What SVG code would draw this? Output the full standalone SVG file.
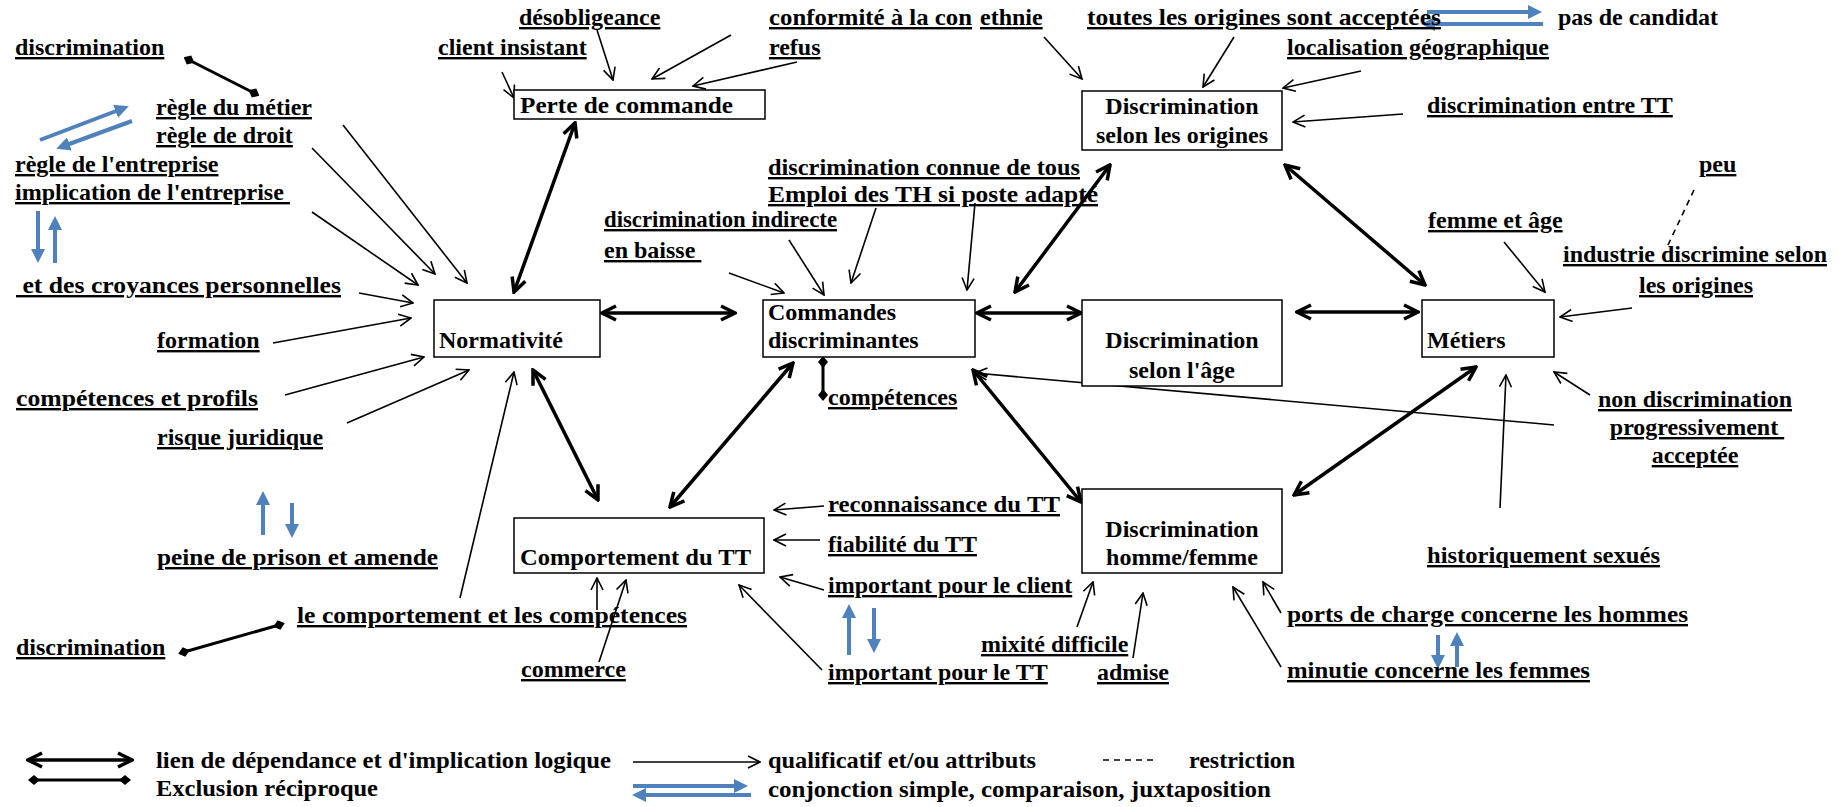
<svg xmlns="http://www.w3.org/2000/svg" width="1843" height="807" viewBox="0 0 1843 807">
<defs>
<style>
text{font-family:"Liberation Serif","Times New Roman",serif;font-size:24px;font-weight:bold;fill:#000}
.u{text-decoration:underline}
.c{text-anchor:middle}
rect.box{fill:#fff;stroke:#000;stroke-width:1.5}
.thin{stroke:#000;stroke-width:1.6;fill:none;marker-end:url(#ah)}
.dep{stroke:#000;stroke-width:3.5;fill:none;marker-start:url(#dh);marker-end:url(#dh)}
.exc{stroke:#000;stroke-width:3;fill:none;marker-start:url(#dm);marker-end:url(#dm)}
.blue{stroke:#4f81bd;stroke-width:4;fill:none;marker-end:url(#bh)}
.dash{stroke:#000;stroke-width:1.6;stroke-dasharray:6 5;fill:none}
</style>
<marker id="ah" viewBox="0 0 14 14" refX="13" refY="7" markerWidth="14" markerHeight="14" markerUnits="userSpaceOnUse" orient="auto">
<path d="M1,1 L13,7 L1,13" fill="none" stroke="#000" stroke-width="1.6"/>
</marker>
<marker id="dh" viewBox="0 0 18 18" refX="16" refY="9" markerWidth="18" markerHeight="18" markerUnits="userSpaceOnUse" orient="auto-start-reverse">
<path d="M2,2 L16,9 L2,16" fill="none" stroke="#000" stroke-width="3.5"/>
</marker>
<marker id="dm" viewBox="0 0 12 12" refX="6" refY="6" markerWidth="12" markerHeight="12" markerUnits="userSpaceOnUse" orient="auto">
<path d="M0,6 L6,1 L12,6 L6,11 Z" fill="#000"/>
</marker>
<marker id="bh" viewBox="0 0 14 14" refX="9" refY="7" markerWidth="14" markerHeight="14" markerUnits="userSpaceOnUse" orient="auto">
<path d="M0,0 L14,7 L0,14 Z" fill="#4f81bd"/>
</marker>
</defs>
<rect width="1843" height="807" fill="#fff"/>

<g id="connectors">
<!-- dependency links -->
<line class="dep" x1="514" y1="292" x2="575" y2="123"/>
<line class="dep" x1="602" y1="313" x2="735" y2="313"/>
<line class="dep" x1="977" y1="313" x2="1081" y2="313"/>
<line class="dep" x1="1297" y1="312" x2="1418" y2="312"/>
<line class="dep" x1="533" y1="370" x2="598" y2="500"/>
<line class="dep" x1="793" y1="363" x2="670" y2="507"/>
<line class="dep" x1="1015" y1="292" x2="1110" y2="165"/>
<line class="dep" x1="973" y1="370" x2="1081" y2="502"/>
<line class="dep" x1="1285" y1="165" x2="1425" y2="285"/>
<line class="dep" x1="1476" y1="367" x2="1294" y2="495"/>
<!-- thin attribute arrows -->
<line class="thin" x1="597" y1="30" x2="613" y2="80"/>
<line class="thin" x1="502" y1="72" x2="514" y2="98"/>
<line class="thin" x1="731" y1="35" x2="652" y2="79"/>
<line class="thin" x1="797" y1="62" x2="693" y2="86"/>
<line class="thin" x1="1044" y1="37" x2="1082" y2="79"/>
<line class="thin" x1="1234" y1="37" x2="1203" y2="87"/>
<line class="thin" x1="1361" y1="71" x2="1283" y2="88"/>
<line class="thin" x1="1403" y1="114" x2="1293" y2="122"/>
<line class="thin" x1="343" y1="125" x2="467" y2="283"/>
<line class="thin" x1="312" y1="148" x2="435" y2="274"/>
<line class="thin" x1="312" y1="212" x2="418" y2="285"/>
<line class="thin" x1="359" y1="293" x2="413" y2="303"/>
<line class="thin" x1="273" y1="343" x2="411" y2="318"/>
<line class="thin" x1="285" y1="395" x2="424" y2="357"/>
<line class="thin" x1="347" y1="423" x2="469" y2="370"/>
<line class="thin" x1="460" y1="598" x2="514" y2="372"/>
<line class="thin" x1="729" y1="273" x2="784" y2="293"/>
<line class="thin" x1="789" y1="240" x2="824" y2="295"/>
<line class="thin" x1="876" y1="208" x2="851" y2="283"/>
<line class="thin" x1="975" y1="203" x2="967" y2="290"/>
<line class="thin" x1="1554" y1="425" x2="975" y2="373"/>
<line class="thin" x1="824" y1="506" x2="774" y2="510"/>
<line class="thin" x1="820" y1="540" x2="774" y2="540"/>
<line class="thin" x1="824" y1="590" x2="780" y2="577"/>
<line class="thin" x1="822" y1="670" x2="739" y2="585"/>
<line class="thin" x1="597" y1="610" x2="597" y2="578"/>
<line class="thin" x1="599" y1="662" x2="626" y2="580"/>
<line class="thin" x1="1077" y1="627" x2="1093" y2="582"/>
<line class="thin" x1="1133" y1="658" x2="1143" y2="593"/>
<line class="thin" x1="1281" y1="667" x2="1233" y2="587"/>
<line class="thin" x1="1281" y1="613" x2="1263" y2="582"/>
<line class="thin" x1="1504" y1="242" x2="1545" y2="292"/>
<line class="thin" x1="1632" y1="308" x2="1560" y2="317"/>
<line class="thin" x1="1590" y1="395" x2="1554" y2="372"/>
<line class="thin" x1="1500" y1="508" x2="1506" y2="375"/>
<!-- restriction -->
<line class="dash" x1="1694" y1="190" x2="1668" y2="245"/>
<!-- exclusion -->
<line class="exc" x1="189" y1="60" x2="254" y2="93"/>
<line class="exc" x1="823" y1="362" x2="823" y2="395"/>
<line class="exc" x1="184" y1="652" x2="279" y2="625"/>
<!-- conjunction -->
<line class="blue" x1="40" y1="140" x2="124" y2="108"/>
<line class="blue" x1="132" y1="121" x2="61" y2="147"/>
<line class="blue" x1="38" y1="211" x2="38" y2="258"/>
<line class="blue" x1="55" y1="263" x2="55" y2="221"/>
<line class="blue" x1="263" y1="535" x2="263" y2="496"/>
<line class="blue" x1="292" y1="503" x2="292" y2="533"/>
<line class="blue" x1="849" y1="655" x2="849" y2="609"/>
<line class="blue" x1="874" y1="608" x2="874" y2="648"/>
<line class="blue" x1="1438" y1="635" x2="1438" y2="664"/>
<line class="blue" x1="1457" y1="667" x2="1457" y2="637"/>
<line class="blue" x1="1427" y1="12" x2="1537" y2="12"/>
<line class="blue" x1="1543" y1="24" x2="1426" y2="24"/>
</g>

<g id="n-perte"><rect class="box" x="514" y="90" width="251" height="29"/><text x="520" y="113" textLength="213" lengthAdjust="spacingAndGlyphs">Perte de commande</text></g>
<g id="n-origines"><rect class="box" x="1082" y="91" width="200" height="59"/><text class="c" x="1182" y="114">Discrimination</text><text class="c" x="1182" y="143">selon les origines</text></g>
<g id="n-normativite"><rect class="box" x="434" y="300" width="166" height="57"/><text x="439" y="348">Normativité</text></g>
<g id="n-commandes"><rect class="box" x="763" y="300" width="212" height="57"/><text x="768" y="320">Commandes</text><text x="768" y="348">discriminantes</text></g>
<g id="n-age"><rect class="box" x="1082" y="300" width="200" height="86"/><text class="c" x="1182" y="348">Discrimination</text><text class="c" x="1182" y="378">selon l'âge</text></g>
<g id="n-metiers"><rect class="box" x="1422" y="300" width="132" height="57"/><text x="1427" y="348">Métiers</text></g>
<g id="n-comportement"><rect class="box" x="514" y="518" width="250" height="55"/><text x="520" y="565" textLength="231" lengthAdjust="spacingAndGlyphs">Comportement du TT</text></g>
<g id="n-hf"><rect class="box" x="1082" y="489" width="200" height="84"/><text class="c" x="1182" y="537">Discrimination</text><text class="c" x="1182" y="565">homme/femme</text></g>

<g id="labels">
<text class="u" x="519" y="25">désobligeance</text>
<text class="u" x="769" y="25" textLength="203" lengthAdjust="spacingAndGlyphs">conformité à la con</text>
<text class="u" x="980" y="25">ethnie</text>
<text class="u" x="1087" y="25" textLength="354" lengthAdjust="spacingAndGlyphs">toutes les origines sont acceptées</text>
<text x="1558" y="25">pas de candidat</text>
<text class="u" x="15" y="55">discrimination</text>
<text class="u" x="438" y="55">client insistant</text>
<text class="u" x="769" y="55">refus</text>
<text class="u" x="1287" y="55">localisation géographique</text>
<text class="u" x="156" y="115">règle du métier</text>
<text class="u" x="1427" y="113">discrimination entre TT</text>
<text class="u" x="156" y="143">règle de droit</text>
<text class="u" x="15" y="172">règle de l'entreprise</text>
<text class="u" x="768" y="175" textLength="312" lengthAdjust="spacingAndGlyphs">discrimination connue de tous</text>
<text class="u" x="1699" y="172">peu</text>
<text class="u" x="15" y="200" xml:space="preserve">implication de l'entreprise </text>
<text class="u" x="768" y="202" textLength="330" lengthAdjust="spacingAndGlyphs">Emploi des TH si poste adapté</text>
<text class="u" x="604" y="227" textLength="233" lengthAdjust="spacingAndGlyphs">discrimination indirecte</text>
<text class="u" x="1428" y="228">femme et âge</text>
<text class="u" x="604" y="258" xml:space="preserve">en baisse </text>
<text class="u" x="1563" y="262">industrie discrimine selon</text>
<text class="u" x="16" y="293" xml:space="preserve" textLength="325" lengthAdjust="spacingAndGlyphs"> et des croyances personnelles</text>
<text class="u c" x="1696" y="293">les origines</text>
<text class="u" x="157" y="348">formation</text>
<text class="u" x="16" y="406" textLength="242" lengthAdjust="spacingAndGlyphs">compétences et profils</text>
<text class="u" x="828" y="405">compétences</text>
<text class="u c" x="1695" y="407">non discrimination</text>
<text class="u" x="157" y="445">risque juridique</text>
<text class="u c" x="1697" y="435" xml:space="preserve">progressivement </text>
<text class="u c" x="1695" y="463">acceptée</text>
<text class="u" x="828" y="512" textLength="232" lengthAdjust="spacingAndGlyphs">reconnaissance du TT</text>
<text class="u" x="828" y="552">fiabilité du TT</text>
<text class="u" x="1427" y="563" textLength="233" lengthAdjust="spacingAndGlyphs">historiquement sexués</text>
<text class="u" x="157" y="565" textLength="281" lengthAdjust="spacingAndGlyphs">peine de prison et amende</text>
<text class="u" x="828" y="593">important pour le client</text>
<text class="u" x="297" y="623" textLength="390" lengthAdjust="spacingAndGlyphs">le comportement et les compétences</text>
<text class="u" x="1287" y="622" textLength="401" lengthAdjust="spacingAndGlyphs">ports de charge concerne les hommes</text>
<text class="u" x="981" y="652">mixité difficile</text>
<text class="u" x="16" y="655">discrimination</text>
<text class="u" x="521" y="677">commerce</text>
<text class="u" x="828" y="680">important pour le TT</text>
<text class="u" x="1097" y="680">admise</text>
<text class="u" x="1287" y="678" textLength="303" lengthAdjust="spacingAndGlyphs">minutie concerne les femmes</text>
</g>

<g id="legend">
<line class="dep" x1="28" y1="760" x2="132" y2="760"/>
<text x="156" y="768" textLength="455" lengthAdjust="spacingAndGlyphs">lien de dépendance et d'implication logique</text>
<line class="exc" x1="34" y1="780" x2="125" y2="780"/>
<text x="156" y="796" textLength="222" lengthAdjust="spacingAndGlyphs">Exclusion réciproque</text>
<line class="thin" x1="633" y1="762" x2="760" y2="762"/>
<text x="768" y="768" textLength="268" lengthAdjust="spacingAndGlyphs">qualificatif et/ou attributs</text>
<line class="dash" x1="1103" y1="760" x2="1158" y2="760"/>
<text x="1189" y="768">restriction</text>
<line class="blue" x1="633" y1="786" x2="743" y2="786"/>
<line class="blue" x1="751" y1="795" x2="637" y2="795"/>
<text x="768" y="797" textLength="503" lengthAdjust="spacingAndGlyphs">conjonction simple, comparaison, juxtaposition</text>
</g>
</svg>
